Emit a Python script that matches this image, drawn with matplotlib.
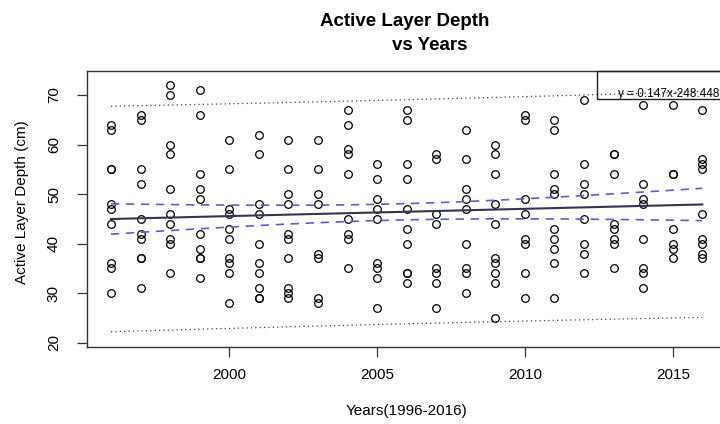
import numpy as np
import matplotlib
matplotlib.use('Agg')
import matplotlib.pyplot as plt
from matplotlib.patches import Rectangle

plt.rcParams['font.family'] = ['Liberation Sans', 'DejaVu Sans']

# ----------------------------------------------
# data (depth in cm per year)
years = list(range(1996, 2017))
depths = [
    [64, 63, 55, 55, 48, 47, 44, 36, 35, 30],  # 1996
    [66, 65, 55, 52, 45, 42, 41, 37, 37, 31],  # 1997
    [72, 70, 60, 58, 51, 46, 44, 41, 40, 34],  # 1998
    [71, 66, 54, 51, 49, 42, 39, 37, 37, 33],  # 1999
    [61, 55, 47, 46, 43, 41, 37, 36, 34, 28],  # 2000
    [62, 58, 48, 46, 40, 36, 34, 31, 29, 29],  # 2001
    [61, 55, 50, 48, 42, 41, 37, 31, 30, 29],  # 2002
    [61, 55, 50, 48, 38, 37, 29, 28],          # 2003
    [67, 64, 59, 58, 54, 45, 42, 41, 35],      # 2004
    [56, 53, 49, 47, 45, 36, 35, 33, 27],      # 2005
    [67, 65, 56, 53, 47, 43, 40, 34, 34, 32],  # 2006
    [58, 57, 46, 44, 35, 34, 32, 27],          # 2007
    [63, 57, 51, 49, 47, 40, 35, 34, 30],      # 2008
    [60, 58, 54, 48, 44, 37, 36, 34, 32, 25],  # 2009
    [66, 65, 49, 46, 41, 40, 34, 29],          # 2010
    [65, 63, 54, 51, 50, 43, 41, 39, 36, 29],  # 2011
    [69, 56, 52, 50, 45, 40, 38, 34],          # 2012
    [58, 58, 54, 44, 43, 41, 40, 35],          # 2013
    [68, 52, 49, 48, 41, 35, 34, 31],          # 2014
    [68, 54, 54, 43, 40, 39, 37],              # 2015
    [67, 57, 56, 55, 46, 41, 40, 38, 37],      # 2016
]
slope = 0.147
intercept = -248.448
eq_label = 'y = 0.147x-248.448'
t_crit = 1.97

x = np.concatenate([[yr] * len(d) for yr, d in zip(years, depths)]).astype(float)
y = np.concatenate(depths).astype(float)

# ----------------------------------------------
# regression line + confidence / prediction bands
xs = np.array(years, dtype=float)
fit = slope * xs + intercept
n = len(x)
resid = y - (slope * x + intercept)
s = np.sqrt(np.sum(resid ** 2) / (n - 2))
sxx = np.sum((x - x.mean()) ** 2)
se_conf = s * np.sqrt(1 / n + (xs - x.mean()) ** 2 / sxx)
se_pred = s * np.sqrt(1 + 1 / n + (xs - x.mean()) ** 2 / sxx)

# ----------------------------------------------
fig = plt.figure(figsize=(7.2, 4.24), dpi=100)
W, H = 720, 424
left, right, top, bottom = 87.3, 726, 71, 346.7
ax = fig.add_axes([left / W, 1 - bottom / H, (right - left) / W, (bottom - top) / H])

ax.plot(x, y, 'o', mfc='none', mec='black', ms=5.5, mew=0.9, zorder=3)
ax.plot(xs, fit, color='#34344f', lw=1.5, zorder=4)
ax.plot(xs, fit + t_crit * se_conf, color='#5c5cd6', lw=1.2, ls=(0, (5, 4)), zorder=4)
ax.plot(xs, fit - t_crit * se_conf, color='#5c5cd6', lw=1.2, ls=(0, (5, 4)), zorder=4)
ax.plot(xs, fit + t_crit * se_pred, color='#444444', lw=0.9, ls=(0, (1, 2.5)), zorder=2)
ax.plot(xs, fit - t_crit * se_pred, color='#444444', lw=0.9, ls=(0, (1, 2.5)), zorder=2)

ax.set_xlim(1995.2, 2016.8)
ax.set_ylim(19.19, 74.84)
ax.set_xticks([2000, 2005, 2010, 2015])
ax.set_yticks([20, 30, 40, 50, 60, 70])
ax.tick_params(axis='both', direction='out', length=7, width=0.9, labelsize=11,
               color='#333333')
ax.tick_params(axis='x', pad=8)
ax.tick_params(axis='y', pad=12, labelrotation=90)
for lab in ax.get_yticklabels():
    lab.set_va('center')
for sp in ax.spines.values():
    sp.set_linewidth(1.0)
    sp.set_color('#333333')

# equation box (top right, cut off by the figure edge)
fig.patches.append(Rectangle((597 / W, 1 - 99 / H), 0.3, (99 - 71) / H,
                             transform=fig.transFigure, fill=False,
                             edgecolor='#222222', lw=1.0, zorder=5))
fig.text(618 / W, 1 - 97 / H, eq_label, fontsize=8.5, va='baseline', ha='left')

fig.text(405 / W, 1 - 21 / H, 'Active Layer Depth', ha='center', va='center',
         fontsize=13.5, fontweight='bold')
fig.text(430 / W, 1 - 45 / H, 'vs Years', ha='center', va='center',
         fontsize=13.5, fontweight='bold')
fig.text(21.7 / W, 1 - 202 / H, 'Active Layer Depth (cm)', rotation=90,
         ha='center', va='center', fontsize=11)
fig.text(407 / W, 1 - 411 / H, 'Years(1996-2016)', ha='center', va='center',
         fontsize=11)

fig.savefig('out.png', dpi=100)
